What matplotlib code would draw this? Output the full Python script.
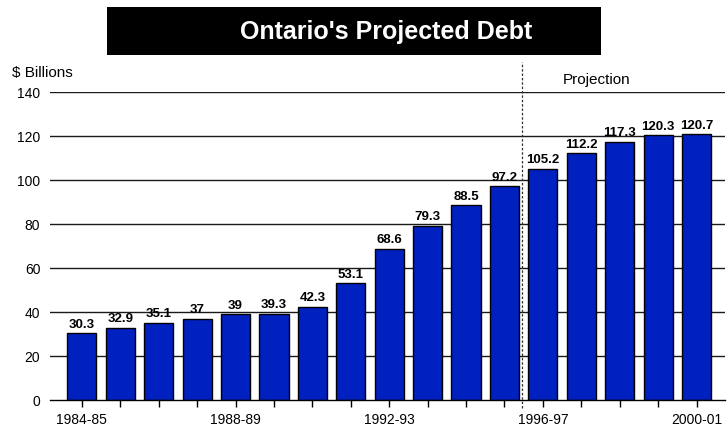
import matplotlib
matplotlib.use("Agg")
import matplotlib.pyplot as plt
from matplotlib.patches import Rectangle

plt.rcParams['font.family'] = ['Liberation Sans', 'DejaVu Sans']

years = ["1984-85", "1985-86", "1986-87", "1987-88", "1988-89", "1989-90",
         "1990-91", "1991-92", "1992-93", "1993-94", "1994-95", "1995-96",
         "1996-97", "1997-98", "1998-99", "1999-00", "2000-01"]
debt = [30.3, 32.9, 35.1, 37, 39, 39.3, 42.3, 53.1, 68.6, 79.3, 88.5, 97.2,
        105.2, 112.2, 117.3, 120.3, 120.7]
labelled_years = ["1984-85", "1988-89", "1992-93", "1996-97", "2000-01"]
y_ticks = [0, 20, 40, 60, 80, 100, 120, 140]

W, H = 727, 430
fig = plt.figure(figsize=(W / 100, H / 100), dpi=100)
ax = fig.add_axes([50 / W, 1 - 400 / H, 675 / W, 308 / H])

x = list(range(len(years)))
ax.bar(x, debt, width=0.76, color='#0020C0', edgecolor='black',
       linewidth=1.0, zorder=3)
for xi, v in zip(x, debt):
    ax.text(xi, v + 1.2, f"{v:g}", ha='center', va='bottom',
            fontsize=9.5, fontweight='bold', zorder=4)

ax.set_xlim(-0.83, 16.74)
ax.set_ylim(0, 140)
ax.set_yticks(y_ticks)
ax.set_yticklabels([str(t) for t in y_ticks], fontsize=10)
ax.tick_params(axis='y', length=0, pad=7)
ax.set_xticks(x)
ax.set_xticklabels([y if y in labelled_years else "" for y in years], fontsize=10)
ax.tick_params(axis='x', length=5, width=1, direction='out', pad=4)

for t in y_ticks[1:]:
    ax.axhline(t, color='#1a1a1a', linewidth=1.0, zorder=1)

for side in ['left', 'right', 'top']:
    ax.spines[side].set_visible(False)
ax.spines['bottom'].set_linewidth(1.0)
ax.spines['bottom'].set_zorder(5)

# boundary between actual and projected years
split = 11.46
ax.axvline(split, ymin=-0.026, ymax=1.097, color='#333333', linewidth=0.9,
           linestyle=(0, (2, 1.5)), clip_on=False, zorder=6)

fig.text(597 / W, 1 - 80 / H, "Projection", ha='center', va='center',
         fontsize=11)
fig.text(12 / W, 1 - 73 / H, "$ Billions", ha='left', va='center', fontsize=11)

# title banner
fig.patches.append(Rectangle((107 / W, 1 - 55 / H), 494 / W, 48 / H,
                             transform=fig.transFigure, facecolor='black',
                             edgecolor='none'))
fig.text(386 / W, 1 - 32 / H, "Ontario's Projected Debt", ha='center',
         va='center', color='white', fontsize=18, fontweight='bold')

fig.savefig("out.png", dpi=100)
